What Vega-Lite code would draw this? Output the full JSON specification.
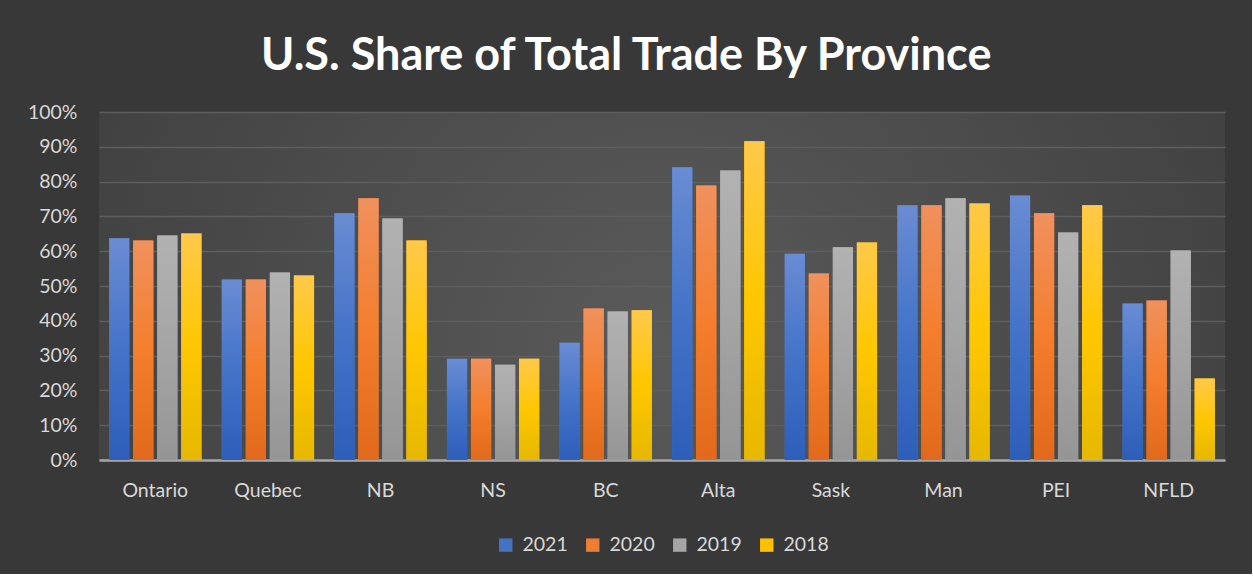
{
  "$schema": "https://vega.github.io/schema/vega-lite/v6.json",
  "width": 1126,
  "height": 348,
  "padding": {"left": 27, "top": 34, "right": 27, "bottom": 19},
  "background": "#383838",
  "title": {
    "text": "U.S. Share of Total Trade By Province",
    "font": "Lato",
    "fontSize": 45,
    "fontWeight": "bold",
    "color": "#ffffff",
    "anchor": "middle",
    "frame": "bounds",
    "offset": 23
  },
  "data": {
    "values": [
      {"province": "Ontario", "year": "2021", "value": 0.637},
      {"province": "Ontario", "year": "2020", "value": 0.631},
      {"province": "Ontario", "year": "2019", "value": 0.645},
      {"province": "Ontario", "year": "2018", "value": 0.651},
      {"province": "Quebec", "year": "2021", "value": 0.519},
      {"province": "Quebec", "year": "2020", "value": 0.519},
      {"province": "Quebec", "year": "2019", "value": 0.539},
      {"province": "Quebec", "year": "2018", "value": 0.530},
      {"province": "NB", "year": "2021", "value": 0.709},
      {"province": "NB", "year": "2020", "value": 0.752},
      {"province": "NB", "year": "2019", "value": 0.694},
      {"province": "NB", "year": "2018", "value": 0.631},
      {"province": "NS", "year": "2021", "value": 0.291},
      {"province": "NS", "year": "2020", "value": 0.291},
      {"province": "NS", "year": "2019", "value": 0.274},
      {"province": "NS", "year": "2018", "value": 0.291},
      {"province": "BC", "year": "2021", "value": 0.337},
      {"province": "BC", "year": "2020", "value": 0.435},
      {"province": "BC", "year": "2019", "value": 0.427},
      {"province": "BC", "year": "2018", "value": 0.430},
      {"province": "Alta", "year": "2021", "value": 0.841},
      {"province": "Alta", "year": "2020", "value": 0.789},
      {"province": "Alta", "year": "2019", "value": 0.832},
      {"province": "Alta", "year": "2018", "value": 0.916},
      {"province": "Sask", "year": "2021", "value": 0.593},
      {"province": "Sask", "year": "2020", "value": 0.536},
      {"province": "Sask", "year": "2019", "value": 0.611},
      {"province": "Sask", "year": "2018", "value": 0.625},
      {"province": "Man", "year": "2021", "value": 0.732},
      {"province": "Man", "year": "2020", "value": 0.732},
      {"province": "Man", "year": "2019", "value": 0.752},
      {"province": "Man", "year": "2018", "value": 0.737},
      {"province": "PEI", "year": "2021", "value": 0.760},
      {"province": "PEI", "year": "2020", "value": 0.709},
      {"province": "PEI", "year": "2019", "value": 0.654},
      {"province": "PEI", "year": "2018", "value": 0.732},
      {"province": "NFLD", "year": "2021", "value": 0.450},
      {"province": "NFLD", "year": "2020", "value": 0.458},
      {"province": "NFLD", "year": "2019", "value": 0.602},
      {"province": "NFLD", "year": "2018", "value": 0.234}
    ]
  },
  "encoding": {
    "x": {
      "field": "province",
      "type": "nominal",
      "sort": ["Ontario", "Quebec", "NB", "NS", "BC", "Alta", "Sask", "Man", "PEI", "NFLD"],
      "scale": {"paddingInner": 0.18, "paddingOuter": 0.09},
      "axis": {
        "title": null,
        "labelAngle": 0,
        "labelFont": "Lato",
        "labelFontSize": 19.5,
        "labelColor": "#d9d9d9",
        "labelPadding": 21,
        "ticks": false,
        "domain": true,
        "domainColor": "#a6a6a6",
        "domainWidth": 2.5,
        "grid": false
      }
    },
    "xOffset": {
      "field": "year",
      "type": "nominal",
      "sort": ["2021", "2020", "2019", "2018"],
      "scale": {"domain": ["2021", "2020", "2019", "2018"], "paddingInner": 0.16}
    },
    "y": {
      "field": "value",
      "type": "quantitative",
      "scale": {"domain": [0, 1], "nice": false},
      "axis": {
        "title": null,
        "format": ".0%",
        "values": [0, 0.1, 0.2, 0.3, 0.4, 0.5, 0.6, 0.7, 0.8, 0.9, 1],
        "labelFont": "Lato",
        "labelFontSize": 19.5,
        "labelColor": "#d9d9d9",
        "labelPadding": 22,
        "ticks": false,
        "domain": false,
        "grid": true,
        "gridColor": "#5e5e5e",
        "gridWidth": 1.5
      }
    }
  },
  "layer": [
    {
      "mark": {"type": "bar"},
      "encoding": {
        "color": {
          "field": "year",
          "type": "nominal",
          "sort": ["2021", "2020", "2019", "2018"],
          "scale": {"domain": ["2021", "2020", "2019", "2018"], "range": ["#4472c4", "#ed7d31", "#a5a5a5", "#ffc000"]},
          "legend": {
            "title": null,
            "orient": "bottom",
            "direction": "horizontal",
            "symbolType": "square",
            "symbolSize": 180,
            "symbolStrokeWidth": 0,
            "labelFont": "Lato",
            "labelFontSize": 19.5,
            "labelColor": "#d9d9d9",
            "labelOffset": 7,
            "columnPadding": 15,
            "offset": 35
          }
        }
      }
    },
    {
      "transform": [{"filter": "datum.year === '2021'"}],
      "mark": {"type": "bar", "fill": {"gradient": "linear", "x1": 0, "y1": 0, "x2": 0, "y2": 1, "stops": [{"offset": 0, "color": "#6a8cd3"}, {"offset": 0.5, "color": "#4473c8"}, {"offset": 1, "color": "#2d5eb9"}]}}
    },
    {
      "transform": [{"filter": "datum.year === '2020'"}],
      "mark": {"type": "bar", "fill": {"gradient": "linear", "x1": 0, "y1": 0, "x2": 0, "y2": 1, "stops": [{"offset": 0, "color": "#f0915e"}, {"offset": 0.5, "color": "#f47e2d"}, {"offset": 1, "color": "#e2691b"}]}}
    },
    {
      "transform": [{"filter": "datum.year === '2019'"}],
      "mark": {"type": "bar", "fill": {"gradient": "linear", "x1": 0, "y1": 0, "x2": 0, "y2": 1, "stops": [{"offset": 0, "color": "#b2b2b2"}, {"offset": 0.5, "color": "#a5a5a5"}, {"offset": 1, "color": "#959595"}]}}
    },
    {
      "transform": [{"filter": "datum.year === '2018'"}],
      "mark": {"type": "bar", "fill": {"gradient": "linear", "x1": 0, "y1": 0, "x2": 0, "y2": 1, "stops": [{"offset": 0, "color": "#ffc94a"}, {"offset": 0.5, "color": "#ffc700"}, {"offset": 1, "color": "#e6b800"}]}}
    }
  ],
  "config": {
    "legend": {"layout": {"bottom": {"anchor": "middle"}}},
    "view": {
      "stroke": null,
      "fill": {"gradient": "radial", "x1": 0.5, "y1": 0.55, "r1": 0, "x2": 0.5, "y2": 0.55, "r2": 0.75, "stops": [{"offset": 0, "color": "#5a5a5a"}, {"offset": 1, "color": "#383838"}]}
    }
  }
}
